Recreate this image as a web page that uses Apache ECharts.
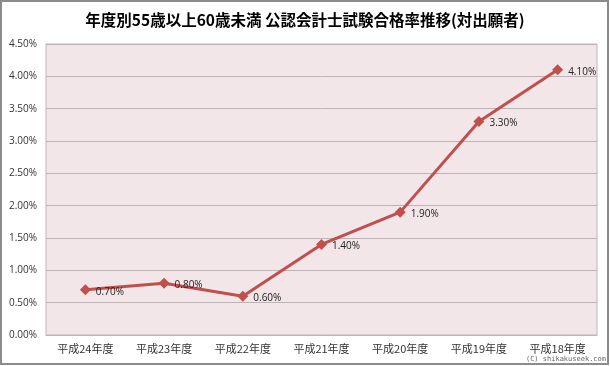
<!DOCTYPE html>
<html><head><meta charset="utf-8">
<script src="https://cdn.jsdelivr.net/npm/echarts@6/dist/echarts.min.js"></script>
<style>html,body{margin:0;padding:0;background:#fff}#c{width:610px;height:366px}</style>
</head><body><div id="c"></div>
<script>
const titleText = '年度別55歳以上60歳未満 公認会計士試験合格率推移(対出願者)';
const categories = ['平成24年度','平成23年度','平成22年度','平成21年度','平成20年度','平成19年度','平成18年度'];
const rates = [0.70, 0.80, 0.60, 1.40, 1.90, 3.30, 4.10];
const credit = '(C) shikakuseek.com';

const chart = echarts.init(document.getElementById('c'));
const font = '"Noto Sans CJK JP", "Noto Sans", sans-serif';
const numFont = '"Open Sans", "DejaVu Sans", sans-serif';
chart.setOption({
  animation: false,
  backgroundColor: '#ffffff',
  title: {
    text: titleText, left: 'center', top: 7,
    textStyle: { fontSize: 15.5, fontWeight: 'bold', color: '#000', fontFamily: font }
  },
  graphic: [
    { type: 'rect', shape: { x: 1, y: 1, width: 607, height: 363 }, style: { fill: 'none', stroke: '#8c8c8c', lineWidth: 2 }, z: 100 },
    { type: 'text', right: 4, bottom: 3, style: { text: credit, fontSize: 7, fill: '#666', fontFamily: 'DejaVu Sans Mono, monospace' } }
  ],
  grid: { left: 46, right: 13, top: 44, bottom: 31, show: true, backgroundColor: '#f2e6e8', borderColor: '#bfb5b8', borderWidth: 1 },
  xAxis: {
    type: 'category', data: categories, boundaryGap: true,
    axisLine: { show: true, lineStyle: { color: '#bfb5b8' } },
    axisTick: { show: false },
    axisLabel: { color: '#333', fontSize: 11, fontFamily: font, margin: 8 }
  },
  yAxis: {
    type: 'value', min: 0, max: 4.5, interval: 0.5,
    axisLine: { show: false }, axisTick: { show: false },
    splitLine: { lineStyle: { color: '#bdb3b6', width: 1 } },
    axisLabel: { color: '#333', fontSize: 10, fontFamily: numFont, margin: 9, formatter: v => v.toFixed(2) + '%' }
  },
  series: [{
    type: 'line', data: rates,
    symbol: 'diamond', symbolSize: 11,
    lineStyle: { color: '#c0504d', width: 3 },
    itemStyle: { color: '#c0504d' },
    label: { show: true, position: 'right', distance: 5, offset: [0, 2], color: '#222', fontSize: 10, fontFamily: numFont, formatter: p => p.value.toFixed(2) + '%' }
  }]
});
</script></body></html>
